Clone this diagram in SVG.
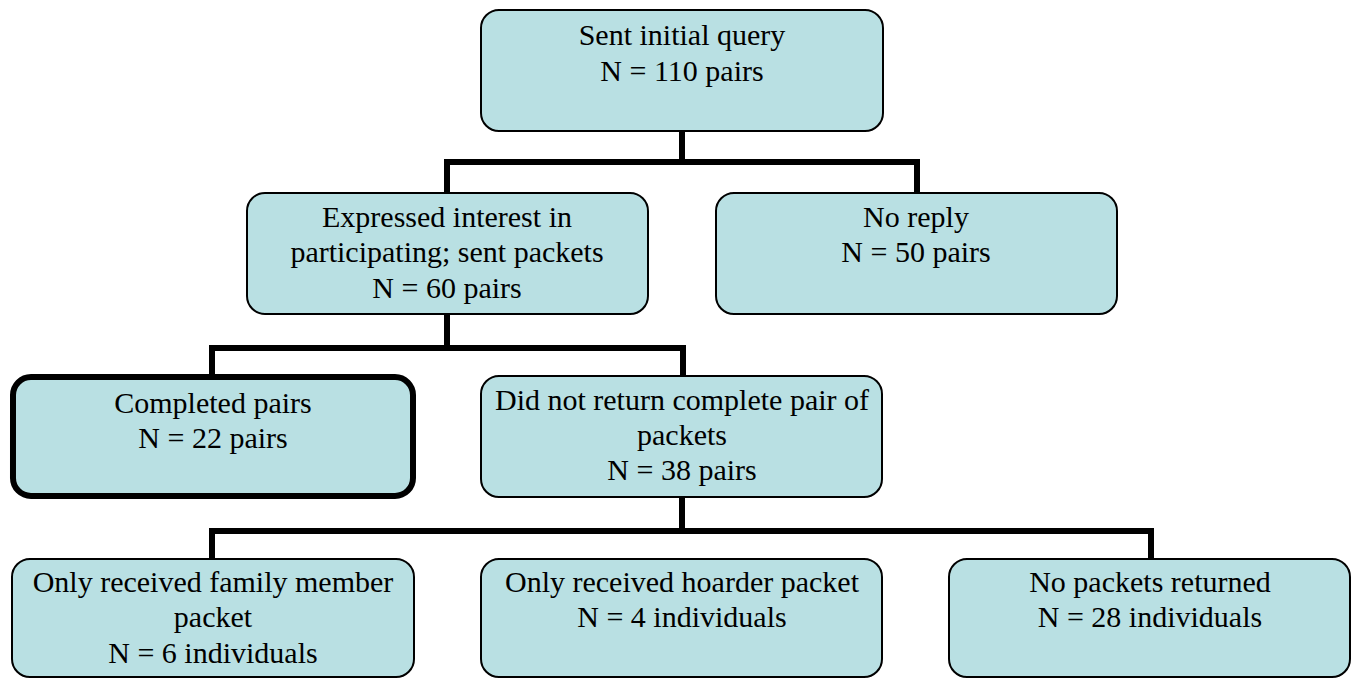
<svg xmlns="http://www.w3.org/2000/svg" width="1358" height="679" viewBox="0 0 1358 679">
<style>
.box{fill:#b9e0e3;stroke:#000;stroke-width:2}
.bold{stroke-width:6}
.conn{fill:none;stroke:#000;stroke-width:6;stroke-linejoin:miter}
.t{font-family:'Liberation Serif','Times New Roman',serif;font-size:30px;fill:#000;text-anchor:middle}
</style>
<rect width="1358" height="679" fill="#fff"/>
<g id="connectors">
<path class="conn" d="M682 131V162M447 193V162H917V193"/>
<path class="conn" d="M447 314V348M212 376V348H683V376"/>
<path class="conn" d="M682 497V531M212 559V531H1151V559"/>
</g>
<g id="n1"><rect class="box" x="481" y="10" width="402" height="121" rx="18"/><text class="t" x="682" y="45">Sent initial query</text><text class="t" x="682" y="81">N = 110 pairs</text></g>
<g id="n2"><rect class="box" x="247" y="193" width="401" height="121" rx="18"/><text class="t" x="447" y="227">Expressed interest in</text><text class="t" x="447" y="262">participating; sent packets</text><text class="t" x="447" y="298">N = 60 pairs</text></g>
<g id="n3"><rect class="box" x="716" y="193" width="401" height="121" rx="18"/><text class="t" x="916" y="227">No reply</text><text class="t" x="916" y="262">N = 50 pairs</text></g>
<g id="n4"><rect class="box bold" x="13" y="377" width="400" height="119" rx="18"/><text class="t" x="213" y="413">Completed pairs</text><text class="t" x="213" y="448">N = 22 pairs</text></g>
<g id="n5"><rect class="box" x="481" y="376" width="401" height="121" rx="18"/><text class="t" x="682" y="410">Did not return complete pair of</text><text class="t" x="682" y="445">packets</text><text class="t" x="682" y="480">N = 38 pairs</text></g>
<g id="n6"><rect class="box" x="12" y="559" width="402" height="118" rx="18"/><text class="t" x="213" y="592">Only received family member</text><text class="t" x="213" y="627">packet</text><text class="t" x="213" y="663">N = 6 individuals</text></g>
<g id="n7"><rect class="box" x="481" y="559" width="401" height="118" rx="18"/><text class="t" x="682" y="592">Only received hoarder packet</text><text class="t" x="682" y="627">N = 4 individuals</text></g>
<g id="n8"><rect class="box" x="949" y="559" width="401" height="118" rx="18"/><text class="t" x="1150" y="592">No packets returned</text><text class="t" x="1150" y="627">N = 28 individuals</text></g>
</svg>
